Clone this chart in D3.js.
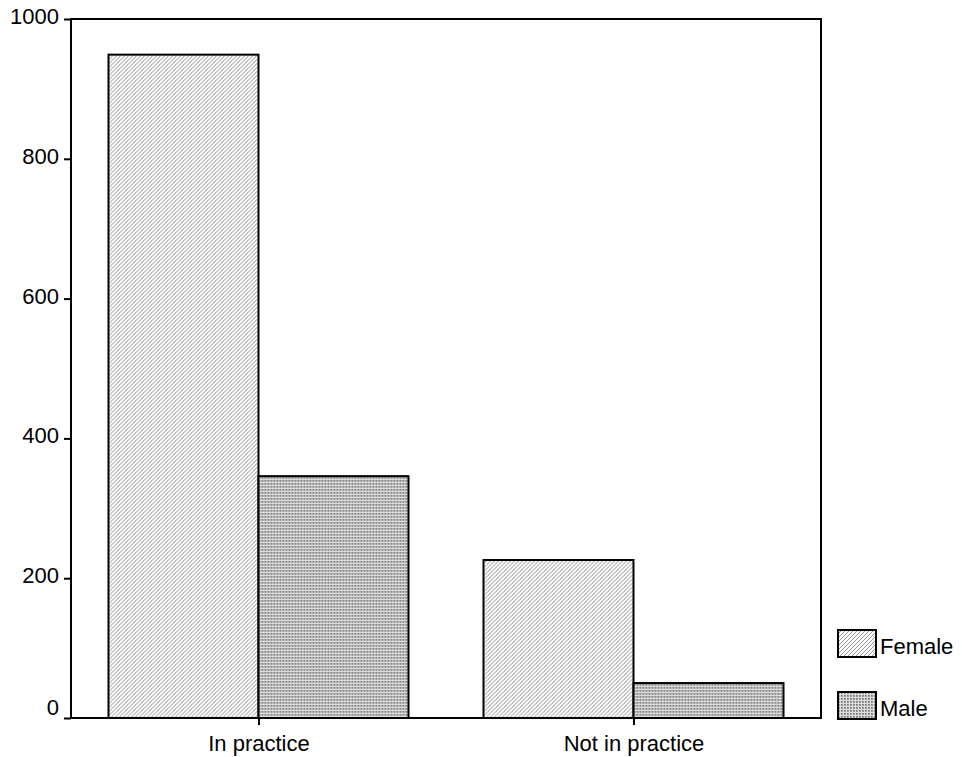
<!DOCTYPE html>
<html><head><meta charset="utf-8">
<script src="https://cdn.jsdelivr.net/npm/d3@7"></script>
<style>body{margin:0;background:#fff}text{font-family:"Liberation Sans",Arial,sans-serif}</style>
</head><body><svg id="c" width="962" height="757"></svg>
<script>
const categories = ["In practice", "Not in practice"];
const seriesNames = ["Female", "Male"];
const female = [949, 226];
const male = [346, 50];
const yTicks = [0, 200, 400, 600, 800, 1000];

const svg = d3.select("#c");
const L = 71, R = 821, T = 19, B = 718;
const FS = 22;
const defs = svg.append("defs");
const pf = defs.append("pattern").attr("id","pf").attr("patternUnits","userSpaceOnUse").attr("width",4).attr("height",4);
pf.append("rect").attr("width",4).attr("height",4).attr("fill","#fafafa");
pf.append("path").attr("d","M-1,1 L1,-1 M0,4 L4,0 M3,5 L5,3").attr("stroke","#9a9a9a").attr("stroke-width",1);
const pm = defs.append("pattern").attr("id","pm").attr("patternUnits","userSpaceOnUse").attr("width",3).attr("height",3);
pm.append("rect").attr("width",3).attr("height",3).attr("fill","#dcdcdc");
pm.append("rect").attr("width",2).attr("height",2).attr("fill","#9a9a9a");
pm.append("rect").attr("x",0).attr("y",0).attr("width",1).attr("height",1).attr("fill","#707070");

const x0 = d3.scaleBand().domain(categories).range([L, R]).paddingInner(0.2).paddingOuter(0.1);
const x1 = d3.scaleBand().domain(seriesNames).range([0, x0.bandwidth()]);
const y = d3.scaleLinear().domain([0, 1000]).range([B, T]);

const data = categories.map((c,i)=>({c, vals:[{s:"Female",v:female[i]},{s:"Male",v:male[i]}]}));
const fills = {Female:"url(#pf)", Male:"url(#pm)"};

svg.append("g").selectAll("g").data(data).join("g")
  .attr("transform", d=>`translate(${x0(d.c)},0)`)
  .selectAll("rect").data(d=>d.vals).join("rect")
  .attr("x", d=>x1(d.s)).attr("width", x1.bandwidth())
  .attr("y", d=>y(d.v)).attr("height", d=>B - y(d.v))
  .attr("fill", d=>fills[d.s]).attr("stroke","#000").attr("stroke-width",2);

// frame
svg.append("rect").attr("x",L).attr("y",T).attr("width",R-L).attr("height",B-T)
  .attr("fill","none").attr("stroke","#000").attr("stroke-width",2);

const ya = svg.append("g").attr("transform",`translate(${L},0)`)
  .call(d3.axisLeft(y).tickValues(yTicks).tickSize(7).tickPadding(5).tickFormat(d3.format("d")));
ya.select(".domain").remove();
ya.selectAll("line").attr("stroke","#000").attr("stroke-width",2);
ya.selectAll("text").attr("font-size",FS).attr("fill","#000").attr("font-family","Liberation Sans, Arial, sans-serif")
  .attr("dy", d => d === 0 ? "-0.15em" : "0.2em");

const xc = d3.scalePoint().domain(categories).range([x0("In practice")+x0.bandwidth()/2, x0("Not in practice")+x0.bandwidth()/2]);
const xa = svg.append("g").attr("transform",`translate(0,${B})`)
  .call(d3.axisBottom(xc).tickSize(7).tickPadding(10));
xa.select(".domain").remove();
xa.selectAll("line").attr("stroke","#000").attr("stroke-width",2);
xa.selectAll("text").attr("font-size",FS).attr("fill","#000").attr("font-family","Liberation Sans, Arial, sans-serif");

// legend
const lg = svg.append("g").selectAll("g").data(seriesNames).join("g")
  .attr("transform",(d,i)=>`translate(838,${630+i*62})`);
lg.append("rect").attr("width",38).attr("height",27).attr("fill",d=>fills[d]).attr("stroke","#000").attr("stroke-width",2);
lg.append("text").attr("x",42).attr("y",24).attr("font-size",FS).text(d=>d);
</script></body></html>
